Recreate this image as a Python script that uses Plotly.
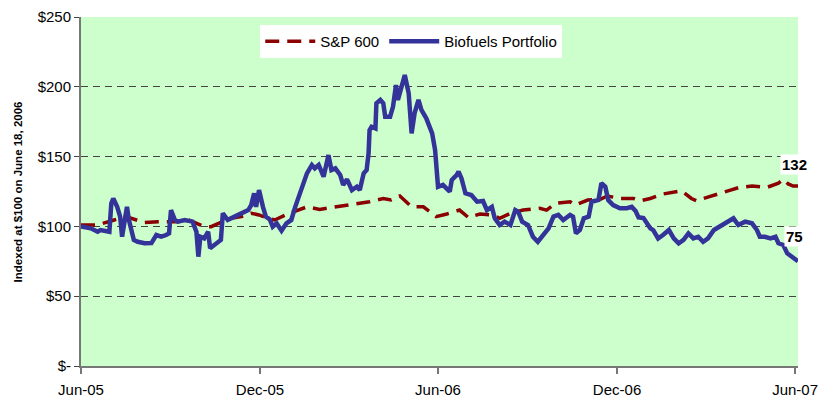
import plotly.graph_objects as go

# ---------------- data ----------------
bio_dates = [
    "2005-06-01", "2005-06-11", "2005-06-18", "2005-06-21", "2005-06-30", "2005-07-02", "2005-07-04",
    "2005-07-08", "2005-07-11", "2005-07-13", "2005-07-18", "2005-07-20", "2005-07-25", "2005-07-29",
    "2005-08-05", "2005-08-12", "2005-08-17", "2005-08-22", "2005-08-27", "2005-08-30", "2005-09-01",
    "2005-09-05", "2005-09-08", "2005-09-15", "2005-09-23", "2005-09-27", "2005-09-29", "2005-10-01",
    "2005-10-05", "2005-10-09", "2005-10-11", "2005-10-15", "2005-10-22", "2005-10-24", "2005-10-29",
    "2005-11-05", "2005-11-12", "2005-11-19", "2005-11-22", "2005-11-25", "2005-11-27", "2005-11-30",
    "2005-12-04", "2005-12-07", "2005-12-11", "2005-12-14", "2005-12-18", "2005-12-23", "2005-12-28",
    "2006-01-02", "2006-01-06", "2006-01-11", "2006-01-14", "2006-01-18", "2006-01-23", "2006-01-26",
    "2006-01-30", "2006-02-04", "2006-02-09", "2006-02-12", "2006-02-16", "2006-02-21", "2006-02-24",
    "2006-02-28", "2006-03-05", "2006-03-10", "2006-03-13", "2006-03-17", "2006-03-20", "2006-03-22",
    "2006-03-23", "2006-03-25", "2006-03-29", "2006-03-30", "2006-04-03", "2006-04-06", "2006-04-08",
    "2006-04-13", "2006-04-16", "2006-04-19", "2006-04-21", "2006-04-25", "2006-04-28", "2006-05-02",
    "2006-05-05", "2006-05-08", "2006-05-12", "2006-05-15", "2006-05-20", "2006-05-26", "2006-05-29",
    "2006-06-01", "2006-06-06", "2006-06-13", "2006-06-15", "2006-06-20", "2006-06-22", "2006-06-25",
    "2006-06-29", "2006-07-05", "2006-07-11", "2006-07-17", "2006-07-21", "2006-07-26", "2006-07-29",
    "2006-08-03", "2006-08-08", "2006-08-14", "2006-08-19", "2006-08-22", "2006-08-26", "2006-09-01",
    "2006-09-06", "2006-09-11", "2006-09-17", "2006-09-22", "2006-09-27", "2006-10-02", "2006-10-07",
    "2006-10-14", "2006-10-17", "2006-10-20", "2006-10-24", "2006-10-28", "2006-11-02", "2006-11-05",
    "2006-11-12", "2006-11-15", "2006-11-19", "2006-11-22", "2006-11-27", "2006-12-04", "2006-12-11",
    "2006-12-16", "2006-12-20", "2006-12-23", "2006-12-28", "2007-01-02", "2007-01-04", "2007-01-07",
    "2007-01-12", "2007-01-17", "2007-01-23", "2007-01-28", "2007-02-02", "2007-02-07", "2007-02-12",
    "2007-02-17", "2007-02-22", "2007-02-27", "2007-03-04", "2007-03-10", "2007-03-16", "2007-03-23",
    "2007-03-30", "2007-04-04", "2007-04-11", "2007-04-18", "2007-04-23", "2007-04-26", "2007-05-01",
    "2007-05-07", "2007-05-12", "2007-05-15", "2007-05-20", "2007-05-24", "2007-05-29", "2007-06-04",
]
bio_values = [
    100, 98.6, 96.2, 97.4, 96.2, 116.5, 120,
    114, 107, 92.6, 114, 104.6, 90.3, 89,
    87.9, 88, 93.8, 92.6, 93.8, 95, 111.7,
    104.6, 103.4, 104.6, 103.4, 96.2, 78.3, 92.6,
    91.4, 96.2, 84.3, 86.7, 90.3, 109.4, 104.6,
    107, 109.4, 111.7, 115.3, 123.7, 114, 126,
    114, 107, 105, 99.8, 102.2, 96.9, 102.2,
    104.6, 114, 123.7, 128.4, 138, 144, 141.6,
    144, 135.6, 151.1, 140.4, 141.6, 136.8, 129.7,
    133.7, 126, 128.4, 126, 138, 140.4, 152.4,
    169, 171.4, 170.2, 188.2, 190.6, 188.2, 178.6,
    178.6, 185.8, 201.3, 190.6, 202.4, 208.4, 195.3,
    166.6, 181, 190.6, 183.4, 177.4, 166.6, 154.7,
    128.4, 129.7, 124.9, 133.2, 136.8, 139.2, 134.4,
    123.7, 122.5, 117.7, 118.2, 111.7, 114, 105.8,
    101, 103.4, 101, 111.7, 110.5, 103.4, 101,
    92.6, 89, 95, 98.6, 107, 108.2, 104.6,
    108.2, 107, 95, 97.4, 105.8, 107, 117.7,
    118.9, 130.9, 128.4, 118.9, 115.3, 113, 113,
    114, 111, 106.5, 106, 101, 98.6, 97.4,
    91.4, 93.8, 97.4, 91.4, 87.9, 90.3, 95,
    91.4, 92.6, 89, 91.4, 97.4, 99.8, 102.2,
    105.8, 101, 103.4, 102.2, 97.4, 92.6, 92.6,
    91.4, 92.6, 87.9, 86.7, 80.7, 78.3, 75,
]

sp_dates = [
    "2005-06-01", "2005-06-18", "2005-07-05", "2005-07-17", "2005-08-05", "2005-08-19", "2005-09-08",
    "2005-09-18", "2005-10-05", "2005-10-12", "2005-11-01", "2005-11-12", "2005-11-22", "2005-11-30",
    "2005-12-09", "2005-12-16", "2005-12-31", "2006-01-18", "2006-01-31", "2006-02-17", "2006-03-05",
    "2006-03-23", "2006-04-06", "2006-04-14", "2006-04-23", "2006-05-05", "2006-05-17", "2006-05-30",
    "2006-06-10", "2006-06-23", "2006-07-02", "2006-07-14", "2006-07-27", "2006-08-03", "2006-08-14",
    "2006-08-27", "2006-09-13", "2006-09-20", "2006-09-29", "2006-10-14", "2006-10-19", "2006-11-01",
    "2006-11-14", "2006-11-21", "2006-12-04", "2006-12-18", "2006-12-25", "2007-01-04", "2007-01-17",
    "2007-02-05", "2007-02-15", "2007-02-20", "2007-03-03", "2007-03-15", "2007-03-27", "2007-04-04",
    "2007-04-18", "2007-05-03", "2007-05-15", "2007-05-20", "2007-05-25", "2007-05-30", "2007-06-04",
]
sp_values = [
    101, 101, 104.6, 107, 102.7, 103.4, 103.4,
    105, 99.8, 99.8, 105.8, 107, 109.4, 108.2,
    105.8, 104.6, 109.4, 114, 112.2, 114, 115.3,
    117.7, 120, 118.9, 121.8, 114, 114, 107,
    108.9, 111.7, 106.4, 108.9, 108.2, 105.8, 109.4,
    111.7, 113, 111.7, 116.5, 117.7, 115.3, 118.9,
    119.4, 121.8, 120, 120, 118.4, 120, 123.2,
    125.6, 120, 118.4, 120.8, 123.7, 126, 127.7,
    128.9, 127.9, 130.9, 133.7, 130.4, 128.9, 129,
]

y_tick_values = [0, 50, 100, 150, 200, 250]
y_tick_labels = ["$-", "$50", "$100", "$150", "$200", "$250"]
end_labels = ["132", "75"]
end_label_y = [144, 92.5]

# ---------------- figure ----------------
fig = go.Figure()
fig.add_trace(go.Scatter(
    x=sp_dates, y=sp_values, mode="lines", name="S&P 600",
    line=dict(color="#8B0000", width=3.5, dash="14px,8px"),
))
fig.add_trace(go.Scatter(
    x=bio_dates, y=bio_values, mode="lines", name="Biofuels Portfolio",
    line=dict(color="#333399", width=4.5),
))

for txt, yv in zip(end_labels, end_label_y):
    fig.add_annotation(
        x="2007-05-31", y=yv, xref="x", yref="y", text="<b>" + txt + "</b>",
        showarrow=False, bgcolor="white", font=dict(size=15, color="black", family="Liberation Sans, Arial"),
        xanchor="center", yanchor="middle", borderpad=1,
    )

fig.add_annotation(
    x=-0.088, y=0.5, xref="paper", yref="paper", textangle=-90,
    text="<b>Indexed at $100 on June 18, 2006</b>", showarrow=False,
    font=dict(size=11.5, color="black", family="Liberation Sans, Arial"),
    xanchor="center", yanchor="middle",
)

fig.update_layout(
    width=819, height=400,
    margin=dict(l=81, r=21, t=17, b=34),
    paper_bgcolor="white", plot_bgcolor="#CCFFCC",
    font=dict(family="Liberation Sans, Arial", size=15, color="black"),
    showlegend=True,
    legend=dict(
        orientation="h", x=0.25, y=0.977, xanchor="left", yanchor="top",
        bgcolor="white", font=dict(size=15), itemwidth=50,
        tracegroupgap=0, borderwidth=0,
    ),
)
fig.update_xaxes(
    range=["2005-06-01", "2007-06-04"], tick0="2005-06-01", dtick="M6", tickformat="%b-%y",
    showgrid=False, showline=True, linecolor="#777777", linewidth=2,
    ticks="outside", ticklen=6, tickcolor="#777777", tickwidth=2,
    ticklabelstandoff=3, automargin=False, zeroline=False,
)
fig.update_yaxes(
    range=[0, 250], tickvals=y_tick_values, ticktext=y_tick_labels,
    showgrid=True, gridcolor="#444444", gridwidth=1, griddash="7px,5px",
    showline=True, linecolor="#777777", linewidth=2,
    ticks="outside", ticklen=5, tickcolor="#444444",
    automargin=False, zeroline=False,
)

fig.write_html(
    "out.html",
    config={"displayModeBar": False},
    post_script="document.body.style.margin='0';document.body.style.overflow='hidden';",
)
